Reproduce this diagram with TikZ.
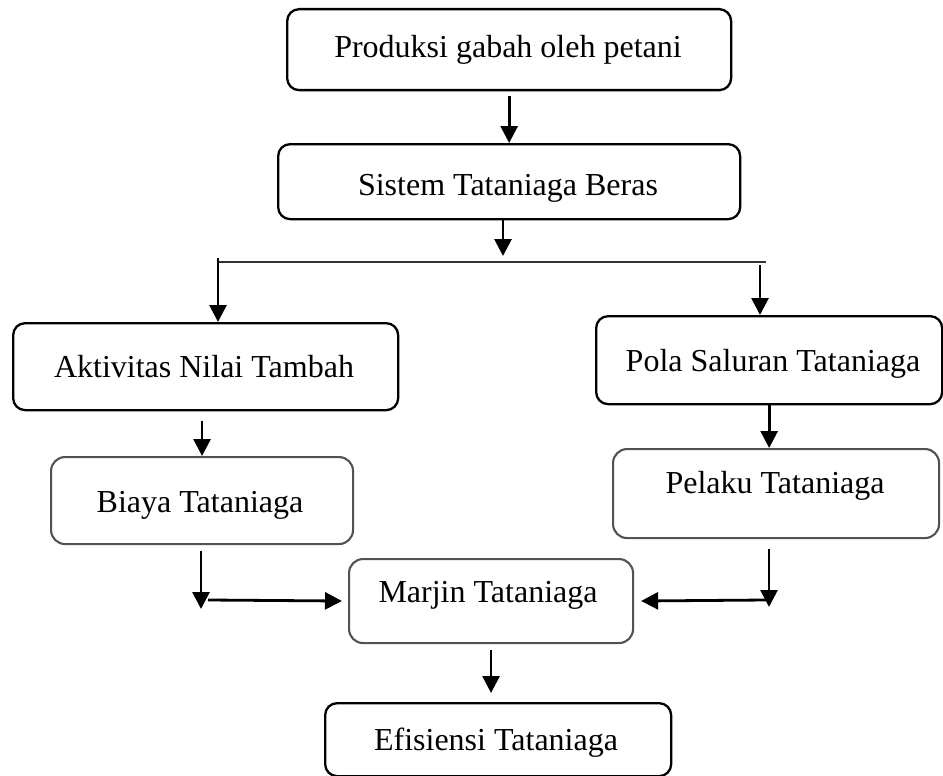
\documentclass[tikz,border=0pt]{standalone}
\usepackage{fontspec}
\setmainfont{Liberation Serif}
\usetikzlibrary{arrows.meta}
\begin{document}
\begin{tikzpicture}[x=1pt,y=-1pt,
  blk/.style={draw=black,line width=2.3pt,rounded corners=12pt,inner sep=0pt,anchor=north west},
  gry/.style={draw=black!68,line width=2.1pt,rounded corners=14pt,inner sep=0pt,anchor=north west},
  lbl/.style={anchor=base,inner sep=0pt,font=\fontsize{32}{38}\selectfont},
  arr/.style={line width=2.8pt,-{Triangle[length=17pt,width=17pt]}},
  hline/.style={line width=1.5pt,draw=black!80}]
\useasboundingbox (0,0) rectangle (943,776);
% boxes
\node[blk,minimum width=444pt,minimum height=81pt] (P) at (286,8) {};
\node[blk,minimum width=462pt,minimum height=75pt] (S) at (277,143) {};
\node[blk,minimum width=385pt,minimum height=87pt] (A) at (12,322) {};
\node[blk,minimum width=346pt,minimum height=88pt] (Po) at (595,315) {};
\node[gry,minimum width=302pt,minimum height=87pt] (B) at (50,456) {};
\node[gry,minimum width=326pt,minimum height=89pt] (Pe) at (612,448) {};
\node[gry,minimum width=284pt,minimum height=84pt] (M) at (348,558) {};
\node[blk,minimum width=346pt,minimum height=73pt] (E) at (324,702) {};
% labels
\node[lbl] (Pt) at (508,58) {Produksi gabah oleh petani};
\node[lbl] (St) at (508,195) {Sistem Tataniaga Beras};
\node[lbl] (At) at (204,377) {Aktivitas Nilai Tambah};
\node[lbl] (Pot) at (773,371) {Pola Saluran Tataniaga};
\node[lbl] (Bt) at (200,512) {Biaya Tataniaga};
\node[lbl] (Pet) at (775,493) {Pelaku Tataniaga};
\node[lbl] (Mt) at (488,602) {Marjin Tataniaga};
\node[lbl] (Et) at (496,750) {Efisiensi Tataniaga};
% coordinates
\coordinate (j) at (503,256);
\coordinate (hl) at (218,262);
\coordinate (hr) at (766,262);
\coordinate (hr2) at (760,265);
\coordinate (bd) at (201,609);
\coordinate (bm) at (208,600);
\coordinate (pd) at (769,607);
\coordinate (pm) at (767,600);
% connectors
\draw[arr,shorten <=5pt] (P.south) -- (S.north);
\draw[arr] (S.south -| j) -- (j);
\draw[hline] (hl) -- (hr);
\draw[arr] ([yshift=4pt]hl) -- (hl |- A.north);
\draw[arr] (hr2) -- (hr2 |- Po.north);
\draw[arr,shorten <=10pt] (B.north |- A.south) -- (B.north);
\draw[arr] (Po.south) -- (Po.south |- Pe.north);
\draw[arr,shorten <=6pt] (B.south -| bd) -- (bd);
\draw[arr,shorten >=6pt] (bm) -- (M.west);
\draw[arr,shorten <=10pt] (Pe.south -| pd) -- (pd);
\draw[arr,shorten >=7pt] (pm) -- (M.east);
\draw[arr,shorten <=6pt,shorten >=9pt] (M.south) -- (M.south |- E.north);
\end{tikzpicture}
\end{document}
